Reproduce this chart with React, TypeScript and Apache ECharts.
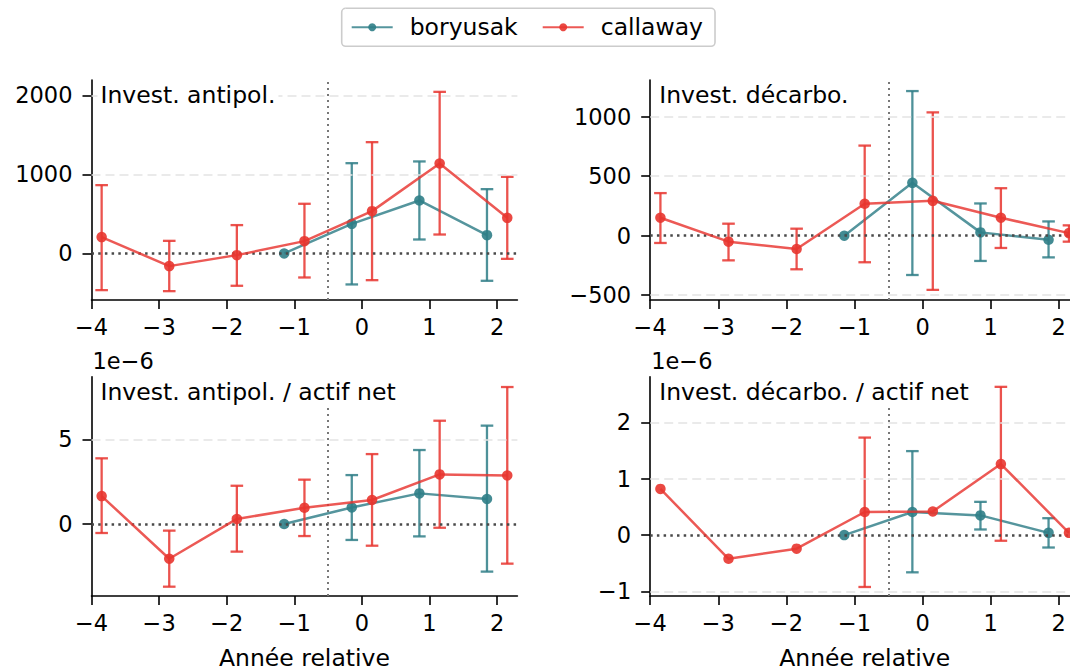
import React, { useEffect, useRef } from "react";
import * as echarts from "echarts";

// Relative years of the event study (reference year = -1)
const callawayYears = [-4, -3, -2, -1, 0, 1, 2];
const boryusakYears = [-1, 0, 1, 2];

// Invest. antipol.
const antipolCallaway = [207, -160, -21, 156, 536, 1139, 451];
const antipolCallawayLo = [-464, -477, -409, -304, -338, 240, -68];
const antipolCallawayHi = [865, 160, 359, 629, 1409, 2046, 970];
const antipolBoryusak = [0, 375, 671, 232];
const antipolBoryusakLo = [null, -392, 177, -346];
const antipolBoryusakHi = [null, 1143, 1165, 814];

// Invest. décarbo.
const decarboCallaway = [151, -50, -112, 268, 293, 151, 22];
const decarboCallawayLo = [-61, -207, -282, -223, -455, -103, -50];
const decarboCallawayHi = [358, 101, 59, 757, 1036, 399, 87];
const decarboBoryusak = [0, 444, 28, -34];
const decarboBoryusakLo = [null, -330, -212, -182];
const decarboBoryusakHi = [null, 1215, 271, 120];

// Invest. antipol. / actif net (units of 1e-6)
const antipolRatioCallaway = [1.65, -2.05, 0.3, 0.96, 1.42, 2.93, 2.87];
const antipolRatioCallawayLo = [-0.53, -3.7, -1.63, -0.71, -1.28, -0.22, -2.34];
const antipolRatioCallawayHi = [3.88, -0.39, 2.26, 2.62, 4.13, 6.1, 8.09];
const antipolRatioBoryusak = [0, 0.98, 1.81, 1.48];
const antipolRatioBoryusakLo = [null, -0.94, -0.73, -2.81];
const antipolRatioBoryusakHi = [null, 2.89, 4.37, 5.81];

// Invest. décarbo. / actif net (units of 1e-6)
const decarboRatioCallaway = [0.82, -0.42, -0.24, 0.41, 0.42, 1.26, 0.04];
const decarboRatioCallawayLo = [null, null, null, -0.92, null, -0.1, null];
const decarboRatioCallawayHi = [null, null, null, 1.73, null, 2.63, null];
const decarboRatioBoryusak = [0, 0.41, 0.35, 0.04];
const decarboRatioBoryusakLo = [null, -0.66, 0.1, -0.22];
const decarboRatioBoryusakHi = [null, 1.49, 0.59, 0.3];

// Tick labels
const xTicks = [-4, -3, -2, -1, 0, 1, 2];
const antipolTicks = [0, 1000, 2000];
const decarboTicks = [-500, 0, 500, 1000];
const antipolRatioTicks = [0, 5];
const decarboRatioTicks = [-1, 0, 1, 2];

const FONT = "DejaVu Sans";
const TEAL = "#2F7E87";
const RED = "#E8352F";
const DODGE = 0.15;
const TICK_FS = 22.5;
const TEXT_FS = 23.5;
const X_MIN = -4;
const X_MAX = 2.3;

// the figure is wider than the visible page; its right edge is cut off
const CANVAS_W = 1090;
const CANVAS_H = 671;

const minus = (v: number) => (v < 0 ? "\u2212" + Math.abs(v) : String(v));

type Panel = {
  title: string;
  grid: { left: number; top: number; width: number; height: number };
  yMin: number;
  yMax: number;
  yTicks: number[];
  call: (number | null)[][];
  bory: (number | null)[][];
};

const panels: Panel[] = [
  {
    title: "Invest. antipol.",
    grid: { left: 91.5, top: 80, width: 425.9, height: 220 },
    yMin: -589,
    yMax: 2196,
    yTicks: antipolTicks,
    call: [antipolCallaway, antipolCallawayLo, antipolCallawayHi],
    bory: [antipolBoryusak, antipolBoryusakLo, antipolBoryusakHi],
  },
  {
    title: "Invest. décarbo.",
    grid: { left: 650.2, top: 80, width: 429, height: 220 },
    yMin: -540,
    yMax: 1308,
    yTicks: decarboTicks,
    call: [decarboCallaway, decarboCallawayLo, decarboCallawayHi],
    bory: [decarboBoryusak, decarboBoryusakLo, decarboBoryusakHi],
  },
  {
    title: "Invest. antipol. / actif net",
    grid: { left: 91.5, top: 376.7, width: 425.9, height: 219.3 },
    yMin: -4.25,
    yMax: 8.7,
    yTicks: antipolRatioTicks,
    call: [antipolRatioCallaway, antipolRatioCallawayLo, antipolRatioCallawayHi],
    bory: [antipolRatioBoryusak, antipolRatioBoryusakLo, antipolRatioBoryusakHi],
  },
  {
    title: "Invest. décarbo. / actif net",
    grid: { left: 650.2, top: 376.7, width: 429, height: 219.3 },
    yMin: -1.08,
    yMax: 2.81,
    yTicks: decarboRatioTicks,
    call: [decarboRatioCallaway, decarboRatioCallawayLo, decarboRatioCallawayHi],
    bory: [decarboRatioBoryusak, decarboRatioBoryusakLo, decarboRatioBoryusakHi],
  },
];

function errorBarRenderer(color: string) {
  return (params: any, api: any) => {
    const x = api.value(0);
    const lo = api.coord([x, api.value(1)]);
    const hi = api.coord([x, api.value(2)]);
    const cap = 6.3;
    const style = { stroke: color, lineWidth: 2.3, opacity: 0.85 };
    return {
      type: "group",
      children: [
        { type: "line", shape: { x1: lo[0], y1: lo[1], x2: hi[0], y2: hi[1] }, style },
        { type: "line", shape: { x1: lo[0] - cap, y1: lo[1], x2: lo[0] + cap, y2: lo[1] }, style },
        { type: "line", shape: { x1: hi[0] - cap, y1: hi[1], x2: hi[0] + cap, y2: hi[1] }, style },
      ],
    };
  };
}

function buildOption() {
  const grids: any[] = [];
  const xAxes: any[] = [];
  const yAxes: any[] = [];
  const series: any[] = [];
  const graphics: any[] = [];

  panels.forEach((p, i) => {
    grids.push({ ...p.grid, containLabel: false });
    xAxes.push({
      type: "value",
      gridIndex: i,
      min: X_MIN,
      max: X_MAX,
      axisLine: { show: true, onZero: false, lineStyle: { color: "#000", width: 1.6 } },
      axisTick: { show: true, length: 9, customValues: xTicks, lineStyle: { color: "#000", width: 1.6 } },
      axisLabel: {
        customValues: xTicks,
        formatter: (v: number) => minus(v),
        fontFamily: FONT,
        fontSize: TICK_FS,
        color: "#000",
        margin: 15,
      },
      splitLine: { show: false },
    });
    yAxes.push({
      type: "value",
      gridIndex: i,
      min: p.yMin,
      max: p.yMax,
      axisLine: { show: true, onZero: false, lineStyle: { color: "#000", width: 1.6 } },
      axisTick: { show: true, length: 9, customValues: p.yTicks, lineStyle: { color: "#000", width: 1.6 } },
      axisLabel: {
        customValues: p.yTicks,
        formatter: (v: number) => minus(v),
        fontFamily: FONT,
        fontSize: TICK_FS,
        color: "#000",
        margin: 19,
      },
      splitLine: { show: false },
    });

    // reference lines: dashed grid, dotted zero line, dotted treatment line
    const gridLines = p.yTicks
      .filter((t) => t !== 0)
      .map((t) => ({ yAxis: t, lineStyle: { color: "#e4e4e4", width: 1.6, type: [9, 5] } }));
    series.push({
      type: "line",
      xAxisIndex: i,
      yAxisIndex: i,
      data: [[X_MIN, 0]],
      symbol: "none",
      lineStyle: { opacity: 0 },
      silent: true,
      z: 1,
      markLine: {
        silent: true,
        symbol: ["none", "none"],
        label: { show: false },
        animation: false,
        data: [
          ...gridLines,
          { yAxis: 0, lineStyle: { color: "#4a4a4a", width: 2.5, type: [2.5, 4.2] } },
          { xAxis: -0.5, lineStyle: { color: "#777", width: 2, type: [2, 4] } },
        ],
      },
    });

    const sets = [
      { name: "boryusak", years: boryusakYears, vals: p.bory, color: TEAL, dodge: -DODGE },
      { name: "callaway", years: callawayYears, vals: p.call, color: RED, dodge: DODGE },
    ];
    sets.forEach((s, k) => {
      const [est, lo, hi] = s.vals;
      const bars = s.years
        .map((yr, j) => [yr + s.dodge, lo[j], hi[j]])
        .filter((d) => d[1] !== null && d[2] !== null);
      series.push({
        type: "custom",
        name: s.name + " IC",
        xAxisIndex: i,
        yAxisIndex: i,
        data: bars,
        encode: { x: 0, y: [1, 2] },
        renderItem: errorBarRenderer(s.color),
        silent: true,
        z: 2 + k * 2,
      });
      series.push({
        type: "line",
        name: s.name,
        xAxisIndex: i,
        yAxisIndex: i,
        data: s.years.map((yr, j) => [yr + s.dodge, est[j]]),
        symbol: "circle",
        symbolSize: 10.5,
        showSymbol: true,
        color: s.color,
        lineStyle: { width: 2.5, color: s.color, opacity: 0.82 },
        itemStyle: { color: s.color, opacity: 0.9 },
        emphasis: { disabled: true },
        silent: true,
        z: 3 + k * 2,
      });
    });

    graphics.push({
      type: "text",
      x: p.grid.left + 6,
      y: p.grid.top + 15,
      z: 100,
      style: {
        text: p.title,
        fontFamily: FONT,
        fontSize: TEXT_FS,
        fill: "#000",
        verticalAlign: "middle",
        backgroundColor: "#fff",
        padding: [4, 3, 4, 3],
      },
    });
  });

  // scale factor labels of the ratio panels
  [panels[2], panels[3]].forEach((p) => {
    graphics.push({
      type: "text",
      x: p.grid.left + 1,
      y: 361,
      z: 100,
      style: { text: "1e\u22126", fontFamily: FONT, fontSize: TICK_FS, fill: "#000", verticalAlign: "middle" },
    });
  });

  // x-axis titles, centred under the lower panels
  [panels[2], panels[3]].forEach((p) => {
    graphics.push({
      type: "text",
      x: p.grid.left + p.grid.width / 2,
      y: 658,
      z: 100,
      style: {
        text: "Année relative",
        fontFamily: FONT,
        fontSize: TEXT_FS,
        fill: "#000",
        align: "center",
        verticalAlign: "middle",
      },
    });
  });

  return {
    animation: false,
    backgroundColor: "#fff",
    textStyle: { fontFamily: FONT },
    grid: grids,
    xAxis: xAxes,
    yAxis: yAxes,
    legend: {
      data: ["boryusak", "callaway"],
      left: 341.7,
      top: 8.3,
      orient: "horizontal",
      padding: [7, 12, 7, 9],
      itemGap: 24,
      itemWidth: 41,
      itemHeight: 10,
      borderColor: "#cccccc",
      borderWidth: 1.6,
      borderRadius: 4,
      backgroundColor: "#fff",
      selectedMode: false,
      textStyle: { fontFamily: FONT, fontSize: TEXT_FS, color: "#000", padding: [0, 0, 0, 12] },
    },
    graphic: graphics,
    series,
  };
}

export default function App() {
  const ref = useRef<HTMLDivElement>(null);
  useEffect(() => {
    if (!ref.current) return;
    const chart = echarts.init(ref.current, undefined, { renderer: "svg" });
    chart.setOption(buildOption() as any);
    return () => chart.dispose();
  }, []);
  return (
    <div
      ref={ref}
      style={{ position: "fixed", left: 0, top: 0, width: CANVAS_W, height: CANVAS_H, background: "#fff" }}
    />
  );
}
